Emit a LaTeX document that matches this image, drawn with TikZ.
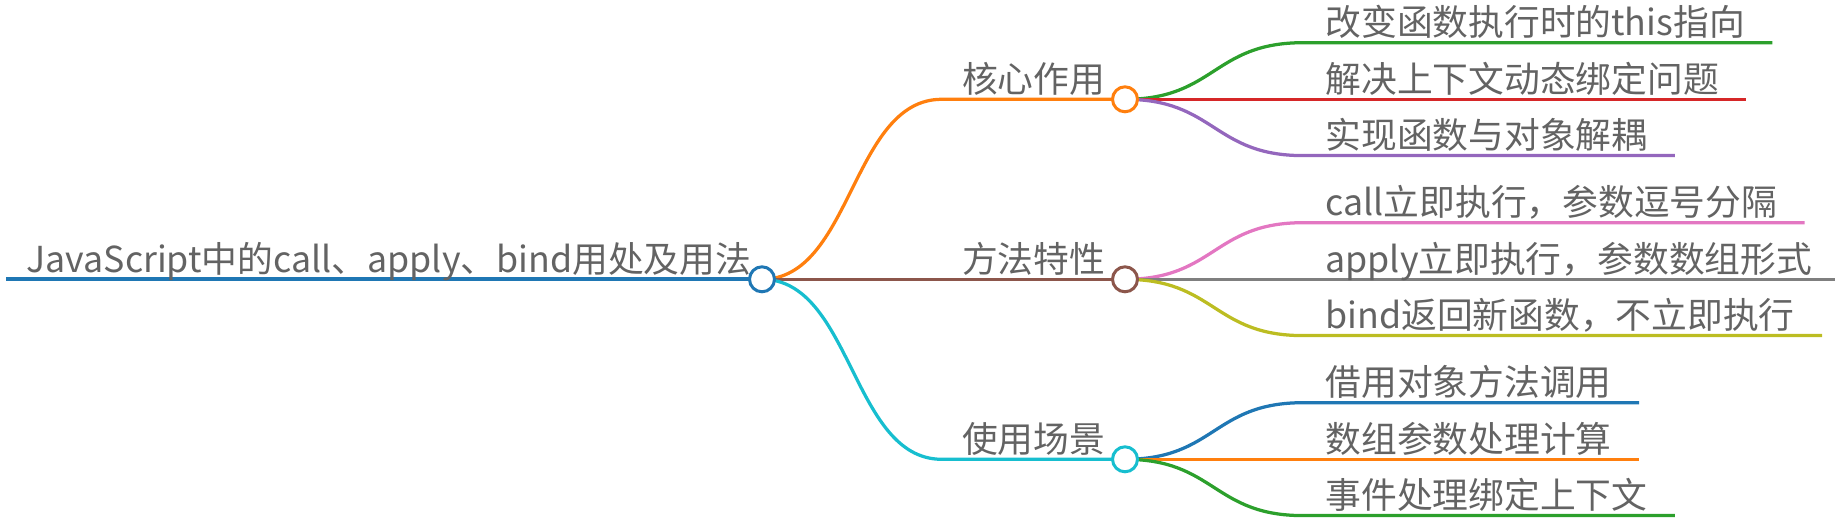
\documentclass[tikz,border=0pt]{standalone}
\usepackage{fontspec}
\usepackage{xcolor}
\usepackage{tikz}
\usetikzlibrary{positioning, backgrounds}

\newfontfamily\cjk{Noto Sans CJK SC}

\definecolor{inkgray}{HTML}{636363}
\definecolor{cblue}{HTML}{1F77B4}
\definecolor{corange}{HTML}{FF7F0E}
\definecolor{cgreen}{HTML}{2CA02C}
\definecolor{cred}{HTML}{D62728}
\definecolor{cpurple}{HTML}{9467BD}
\definecolor{cbrown}{HTML}{8C564B}
\definecolor{cpink}{HTML}{E377C2}
\definecolor{cgray}{HTML}{7F7F7F}
\definecolor{colive}{HTML}{BCBD22}
\definecolor{ccyan}{HTML}{17BECF}

\begin{document}
\begin{tikzpicture}[
  x=0.4pt, y=-0.4pt,
  hub/.style={circle, draw, line width=1.2pt, fill=white, minimum size=10pt, inner sep=0pt},
  topic/.style={anchor=base west, inner sep=0pt, text=inkgray, font=\cjk\fontsize{14.3pt}{17pt}\selectfont},
  edge/.style={line width=1.3pt},
  trunk/.style={line width=1.6pt}
]
\useasboundingbox (0,0) rectangle (1835,525);

% Root
\coordinate (rootIn) at (6,279.3);
\node[topic] (rootText) at ([shift={(20,-7)}]rootIn) {JavaScript中的call、apply、bind用处及用法};
\node[hub, draw=cblue] (root) at (762,279.3) {};

% Branches
\coordinate (coreIn) at (941.7,99.3);
\coordinate (methodIn) at (941.7,279.3);
\coordinate (usageIn) at (941.7,459.3);
\node[topic] (coreText) at ([shift={(20,-7)}]coreIn) {核心作用};
\node[topic] (methodText) at ([shift={(20,-7)}]methodIn) {方法特性};
\node[topic] (usageText) at ([shift={(20,-7)}]usageIn) {使用场景};
\node[hub, draw=corange] (core) at (1125,99.3) {};
\node[hub, draw=cbrown] (method) at (1125,279.3) {};
\node[hub, draw=ccyan] (usage) at (1125,459.3) {};

% Leaves under core
\coordinate (coreAIn) at (1303,42.7);
\coordinate (coreBIn) at (1303,99.3);
\coordinate (coreCIn) at (1303,155.6);
\node[topic] (coreAText) at ([shift={(22,-7)}]coreAIn) {改变函数执行时的this指向};
\node[topic] (coreBText) at ([shift={(22,-7)}]coreBIn) {解决上下文动态绑定问题};
\node[topic] (coreCText) at ([shift={(22,-7)}]coreCIn) {实现函数与对象解耦};

% Leaves under method
\coordinate (methodAIn) at (1303,222.7);
\coordinate (methodBIn) at (1303,279.3);
\coordinate (methodCIn) at (1303,335.6);
\node[topic] (methodAText) at ([shift={(22,-7)}]methodAIn) {call立即执行，参数逗号分隔};
\node[topic] (methodBText) at ([shift={(22,-7)}]methodBIn) {apply立即执行，参数数组形式};
\node[topic] (methodCText) at ([shift={(22,-7)}]methodCIn) {bind返回新函数，不立即执行};

% Leaves under usage
\coordinate (usageAIn) at (1303,402.7);
\coordinate (usageBIn) at (1303,459.3);
\coordinate (usageCIn) at (1303,515.6);
\node[topic] (usageAText) at ([shift={(22,-7)}]usageAIn) {借用对象方法调用};
\node[topic] (usageBText) at ([shift={(22,-7)}]usageBIn) {数组参数处理计算};
\node[topic] (usageCText) at ([shift={(22,-7)}]usageCIn) {事件处理绑定上下文};

\begin{pgfonlayer}{background}
% root to branches
\draw[trunk, cblue] (rootIn) -- (root.center);
\draw[edge, corange] (root.center) .. controls ([xshift=36pt]root.center) and ([xshift=-36pt]coreIn) .. (coreIn) -- (core.center);
\draw[edge, cbrown] (root.center) -- (methodIn) -- (method.center);
\draw[edge, ccyan] (root.center) .. controls ([xshift=36pt]root.center) and ([xshift=-36pt]usageIn) .. (usageIn) -- (usage.center);
% core to leaves
\draw[edge, cgreen] (core.center) .. controls ([xshift=36pt]core.center) and ([xshift=-36pt]coreAIn) .. (coreAIn) -- (coreAIn -| coreAText.east) -- ++(27,0);
\draw[edge, cred] (core.center) -- (coreBIn) -- (coreBIn -| coreBText.east) -- ++(27,0);
\draw[edge, cpurple] (core.center) .. controls ([xshift=36pt]core.center) and ([xshift=-36pt]coreCIn) .. (coreCIn) -- (coreCIn -| coreCText.east) -- ++(27,0);
% method to leaves
\draw[edge, cpink] (method.center) .. controls ([xshift=36pt]method.center) and ([xshift=-36pt]methodAIn) .. (methodAIn) -- (methodAIn -| methodAText.east) -- ++(27,0);
\draw[edge, cgray] (method.center) -- (methodBIn) -- (methodBIn -| methodBText.east) -- ++(27,0);
\draw[edge, colive] (method.center) .. controls ([xshift=36pt]method.center) and ([xshift=-36pt]methodCIn) .. (methodCIn) -- (methodCIn -| methodCText.east) -- ++(27,0);
% usage to leaves
\draw[edge, cblue] (usage.center) .. controls ([xshift=36pt]usage.center) and ([xshift=-36pt]usageAIn) .. (usageAIn) -- (usageAIn -| usageAText.east) -- ++(27,0);
\draw[edge, corange] (usage.center) -- (usageBIn) -- (usageBIn -| usageBText.east) -- ++(27,0);
\draw[edge, cgreen] (usage.center) .. controls ([xshift=36pt]usage.center) and ([xshift=-36pt]usageCIn) .. (usageCIn) -- (usageCIn -| usageCText.east) -- ++(27,0);
\end{pgfonlayer}

\end{tikzpicture}
\end{document}
